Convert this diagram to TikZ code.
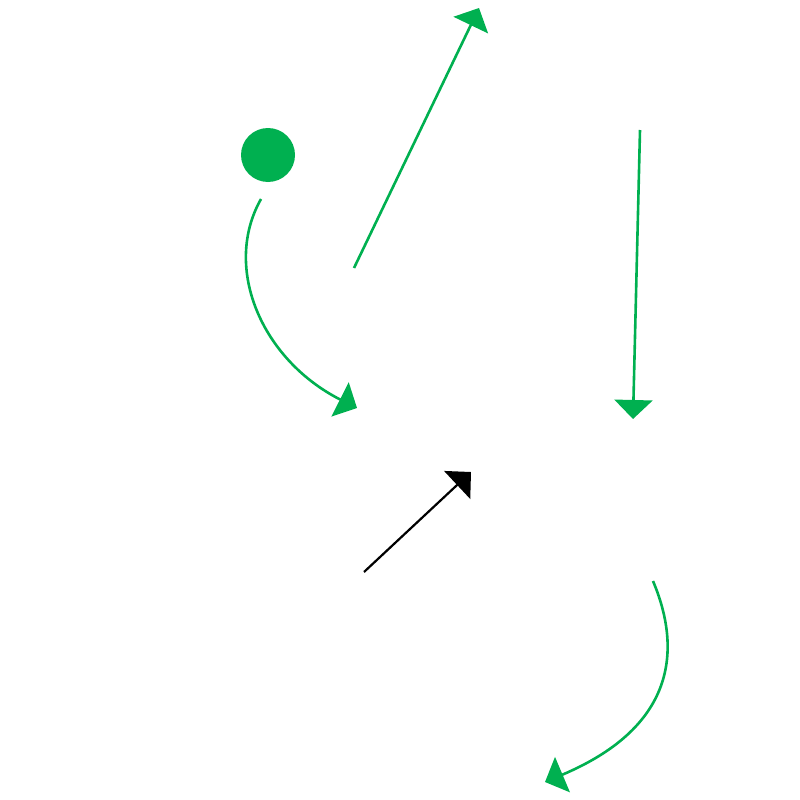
\documentclass[tikz,border=0pt]{standalone}
\usetikzlibrary{arrows.meta}
\definecolor{playGreen}{HTML}{00B050}
\newcommand{\tipLen}[0]{19pt}
\newcommand{\tipWid}[0]{38pt}

\begin{document}
\begin{tikzpicture}[x=1pt, y=-1pt]
  \tikzset{move/.style={line width=2.6pt, draw=playGreen,
      -{Triangle[length=\tipLen, width=\tipWid, fill=playGreen]}},
    pass/.style={line width=2.2pt, draw=black,
      -{Triangle[length=\tipLen, width=\tipWid, fill=black]}},
    ball/.style={circle, fill=playGreen, minimum size=54pt, inner sep=0pt}}
  \useasboundingbox (0,0) rectangle (800,800);
  \node[ball] (ball) at (268,155) {};
  % runs
  \coordinate (run-1-a) at (261,199);
  \coordinate (run-1-b) at (357,408);
  \coordinate (run-2-a) at (354,268);
  \coordinate (run-2-b) at (479,8);
  \coordinate (run-3-a) at (640,130);
  \coordinate (run-3-b) at (633,419);
  \coordinate (run-4-a) at (653,581);
  \coordinate (run-4-b) at (545,782);
  % pass
  \coordinate (pass-a) at (364,572);
  \coordinate (pass-b) at (471,472);
  \draw[move] (run-1-a) .. controls (222,268) and (262,360) .. (run-1-b);
  \draw[move] (run-2-a) -- (run-2-b);
  \draw[move] (run-3-a) -- (run-3-b);
  \draw[move] (run-4-a) .. controls (680,645) and (680,725) .. (run-4-b);
  \draw[pass] (pass-a) -- (pass-b);
\end{tikzpicture}
\end{document}
